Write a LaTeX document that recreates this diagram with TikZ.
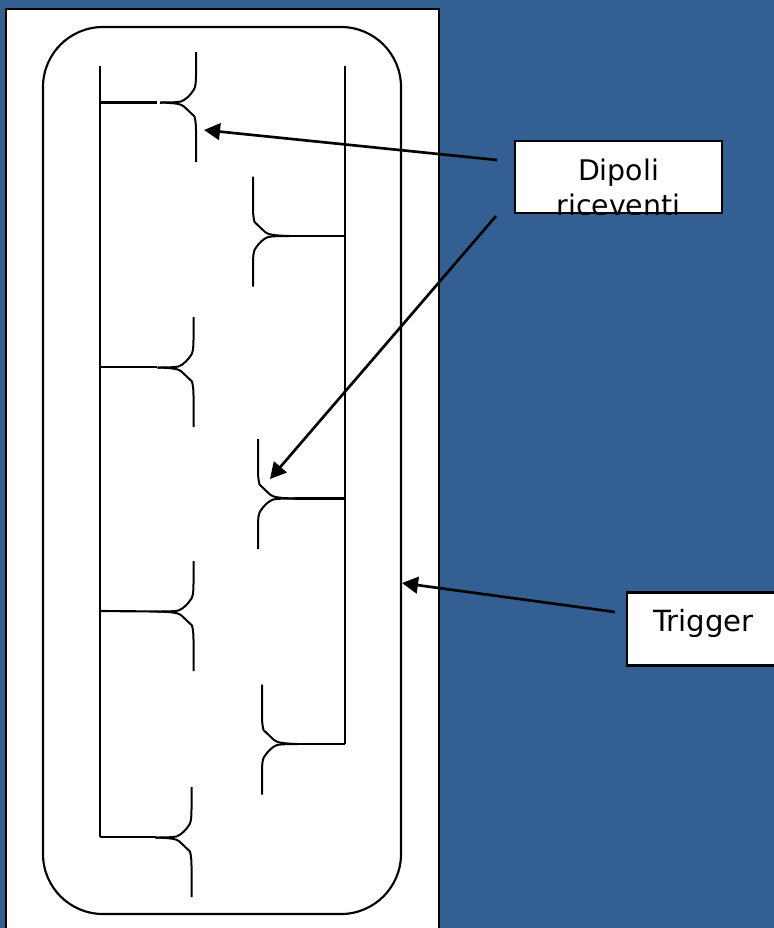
\documentclass[tikz,border=0pt]{standalone}
\usepackage{fontspec}
\setmainfont{DejaVu Sans}
\usetikzlibrary{arrows.meta}
\definecolor{slidebg}{HTML}{335F92}
\tikzset{
  wire/.style={draw=black,line width=1.6pt},
  arm/.style={draw=black,line width=1.5pt,line join=round},
  pointer/.style={draw=black,line width=2pt,-{Triangle[length=12pt,width=12.5pt]}},
  label box/.style={draw=black,line width=1.6pt,fill=white,inner sep=0pt,text=black},
  label text/.style={font=\fontsize{21.3}{25.5}\selectfont,text=black,inner sep=0pt,anchor=base},
  dipole/.pic={
    \draw[arm] (0,-50.5) -- (0,-28) .. controls (0,-20) and (-.5,-16) .. (-2,-13) .. controls (-6,-7) and (-10,-3) .. (-15,-1) .. controls (-20,0) and (-28,0) .. (-36,0);
    \draw[arm] (0,59.5) -- (0,28) .. controls (0,22) and (-.5,18) .. (-1.5,14) -- (-12,4) .. controls (-15,1.5) and (-20,0.5) .. (-36,0);
  }
}
\begin{document}
\begin{tikzpicture}[x=.75pt,y=-.75pt]
\useasboundingbox (0,0) rectangle (774,928);
\fill[slidebg] (0,0) rectangle (774,928);
% white slide panel
\draw[draw=black,line width=1.5pt,fill=white] (5.5,9) -- (439,9) -- (439,932) -- (5.5,932) -- cycle;
% trigger outline
\node[draw=black,line width=1.6pt,rounded corners=45pt,minimum width=268.5pt,minimum height=665.25pt,inner sep=0pt] (trigger) at (222,470.5) {};
% main lines
\coordinate (ltop) at (100,66);
\coordinate (lbot) at (100,837);
\coordinate (rtop) at (345,66);
\coordinate (rbot) at (345,744);
\draw[wire] (ltop) -- (lbot);
\draw[wire] (rtop) -- (rbot);
% left dipoles
\pic (d1) at (196,102.5) {dipole};
\pic (d2) at (193.5,367.5) {dipole};
\pic (d3) at (193.5,611.5) {dipole};
\pic (d4) at (191.5,837.5) {dipole};
\coordinate (f1) at (100,102.5);\coordinate (g1) at (157,102.5);
\coordinate (f2) at (100,367);\coordinate (g2) at (157,367);
\coordinate (f3) at (100,611);\coordinate (g3) at (158,611.5);
\coordinate (f4) at (100,837);\coordinate (g4) at (156,837);
\draw[wire] (f1) -- (g1);
\draw[wire] (f2) -- (g2);
\draw[wire] (f3) -- (g3);
\draw[wire] (f4) -- (g4);
% right dipoles
\pic[rotate=180] (d5) at (253,236) {dipole};
\pic[rotate=180] (d6) at (258,498.5) {dipole};
\pic[rotate=180] (d7) at (262,744) {dipole};
\coordinate (f5) at (345,236);\coordinate (g5) at (289,236);
\coordinate (f6) at (345,498.5);\coordinate (g6) at (294,498.5);
\coordinate (f7) at (345,744);\coordinate (g7) at (298,744);
\draw[wire] (f5) -- (g5);
\draw[wire] (f6) -- (g6);
\draw[wire] (f7) -- (g7);
% labels
\node[label box,minimum width=155.5pt,minimum height=54.25pt] (dip) at (618.3,177.2) {};
\begin{scope}
\clip (dip.south west) rectangle (dip.north east);
\node[label text] (dipA) at (618.5,180) {Dipoli};
\node[label text] (dipB) at (618.5,215.5) {riceventi};
\end{scope}
\node[draw=black,line width=1.6pt,inner sep=0pt,minimum width=155.5pt,minimum height=54.25pt] (dipframe) at (618.3,177.2) {};
\node[label box,minimum width=120pt,minimum height=54.75pt] (trg) at (707,629) {};
\node[label text,font=\fontsize{21.9}{26}\selectfont] (trgA) at (703.5,631) {Trigger};
% pointers
\coordinate (p1) at (497,160);\coordinate (t1) at (204,130);
\coordinate (p2) at (496,216);\coordinate (t2) at (270,479);
\coordinate (p3) at (615,612);\coordinate (t3) at (402,583);
\draw[pointer] (p1) -- (t1);
\draw[pointer] (p2) -- (t2);
\draw[pointer] (p3) -- (t3);
\end{tikzpicture}
\end{document}
